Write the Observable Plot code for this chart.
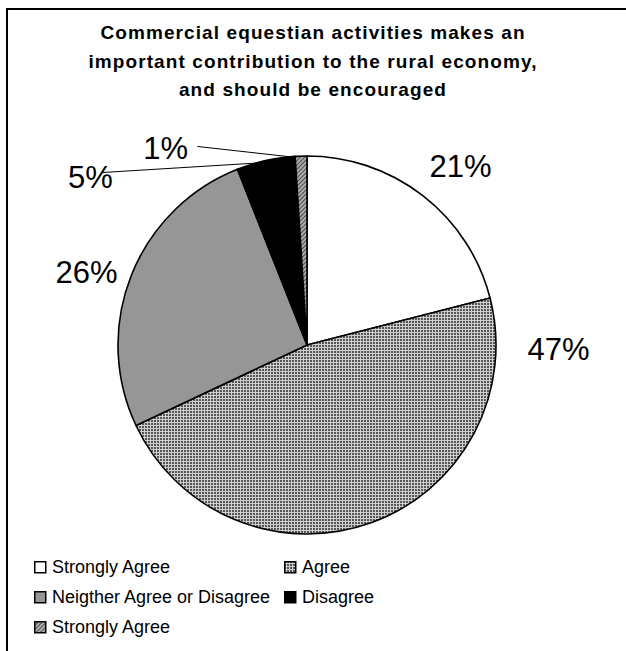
<!DOCTYPE html>
<html>
<head>
<meta charset="utf-8">
<script src="https://cdn.jsdelivr.net/npm/d3@7"></script>
<script src="https://cdn.jsdelivr.net/npm/@observablehq/plot@0.6"></script>
<style>
  html, body { margin: 0; padding: 0; background: #fff; }
  #page { position: relative; width: 626px; height: 651px; overflow: hidden; font-family: "Liberation Sans", Arial, sans-serif; }
  #frame { position: absolute; left: 6px; top: 8px; width: 640px; height: 660px; border-top: 2px solid #000; border-left: 2px solid #000; }
  #title { position: absolute; left: 0; top: 19px; width: 626px; text-align: center; font-weight: bold; font-size: 19px; letter-spacing: 1.1px; line-height: 28.5px; color: #000; }
  #chart { position: absolute; left: 0; top: 115px; }
  .leg { position: absolute; font-size: 18px; line-height: 20px; color: #000; white-space: nowrap; }
  .leg svg { position: absolute; left: 0; top: 4px; }
  .leg span { position: absolute; left: 18px; top: 0; }
</style>
</head>
<body>
<div id="page">
  <div id="frame"></div>
  <div id="title">Commercial equestian activities makes an<br>important contribution to the rural economy,<br>and should be encouraged</div>
  <div id="chart"></div>
  <div id="legend"></div>
</div>
<script>
// ---- data ----
const categories = ["Strongly Agree", "Agree", "Neigther Agree or Disagree", "Disagree", "Strongly Agree"];
const values = [21, 47, 26, 5, 1];
const labels = ["21%", "47%", "26%", "5%", "1%"];

// ---- styles / layout (kept separate from data) ----
const fills = ["#ffffff", "url(#patAgree)", "#969696", "#000000", "url(#patHatch)"];
const legendFills = ["#ffffff", "url(#lpatAgree)", "#969696", "#000000", "url(#lpatHatch)"];
const labelX = [0.81, 1.328, -1.169, -1.148, -0.751];
const labelY = [0.942, -0.026, 0.381, 0.884, 1.037];
const leaderFrom = [null, null, null, [-1.09, 0.915], [-0.582, 1.053]];
const leaderTo = [null, null, null, [-0.259, 0.966], [-0.079, 0.997]];
const legendPos = [[34, 557], [284, 557], [34, 587], [284, 587], [34, 617]];

function addPatterns(sel, prefix) {
  const defs = sel.append("defs");
  const a = defs.append("pattern").attr("id", prefix + "Agree").attr("width", 3).attr("height", 3).attr("patternUnits", "userSpaceOnUse");
  a.append("rect").attr("width", 3).attr("height", 3).attr("fill", "#cfcfcf");
  a.append("rect").attr("width", 2).attr("height", 2).attr("fill", "#555555");
  const h = defs.append("pattern").attr("id", prefix + "Hatch").attr("width", 3).attr("height", 3).attr("patternUnits", "userSpaceOnUse").attr("patternTransform", "rotate(45)");
  h.append("rect").attr("width", 3).attr("height", 3).attr("fill", "#b8b8b8");
  h.append("rect").attr("width", 1.2).attr("height", 3).attr("fill", "#4a4a4a");
}

const slices = categories.map((c, i) => ({category: c, value: values[i], fill: fills[i]}));
const pieData = d3.pie().sort(null).value(d => d.value)(slices);

const pieMark = (index, scales) => {
  const x = scales.x, y = scales.y;
  const cx = x(0), cy = y(0), r = x(1) - x(0);
  const g = d3.create("svg:g");
  addPatterns(g, "pat");
  const arc = d3.arc().innerRadius(0).outerRadius(r);
  g.append("g").attr("transform", `translate(${cx},${cy})`)
    .selectAll("path").data(pieData).join("path")
    .attr("d", arc)
    .attr("fill", d => d.data.fill)
    .attr("stroke", "#000")
    .attr("stroke-width", 1.6)
    .attr("stroke-linejoin", "round");
  return g.node();
};

const labelData = labels.map((t, i) => ({text: t, x: labelX[i], y: labelY[i]}));
const leaderData = leaderFrom.map((f, i) => f ? {x1: f[0], y1: f[1], x2: leaderTo[i][0], y2: leaderTo[i][1]} : null).filter(d => d);

const chart = Plot.plot({
  width: 626,
  height: 430,
  margin: 0,
  style: {background: "transparent", overflow: "visible"},
  x: {domain: [-1, 1], range: [118, 496], axis: null},
  y: {domain: [-1, 1], range: [419, 41], axis: null},
  marks: [
    pieMark,
    Plot.link(leaderData, {x1: "x1", y1: "y1", x2: "x2", y2: "y2", stroke: "#000", strokeWidth: 1}),
    Plot.text(labelData, {x: "x", y: "y", text: "text", fontSize: 31, fontFamily: "Liberation Sans, Arial, sans-serif", fill: "#000", textAnchor: "middle", lineAnchor: "middle"})
  ]
});
document.getElementById("chart").appendChild(chart);

// legend
const legend = d3.select("#legend");
categories.forEach((c, i) => {
  const item = legend.append("div").attr("class", "leg")
    .style("left", legendPos[i][0] + "px").style("top", legendPos[i][1] + "px");
  const s = item.append("svg").attr("width", 13).attr("height", 13);
  if (i === 0) addPatterns(s, "lpat");
  s.append("rect").attr("x", 0.75).attr("y", 0.75).attr("width", 11).attr("height", 11)
    .attr("fill", legendFills[i]).attr("stroke", "#000").attr("stroke-width", 1.5);
  item.append("span").text(c);
});
</script>
</body>
</html>
